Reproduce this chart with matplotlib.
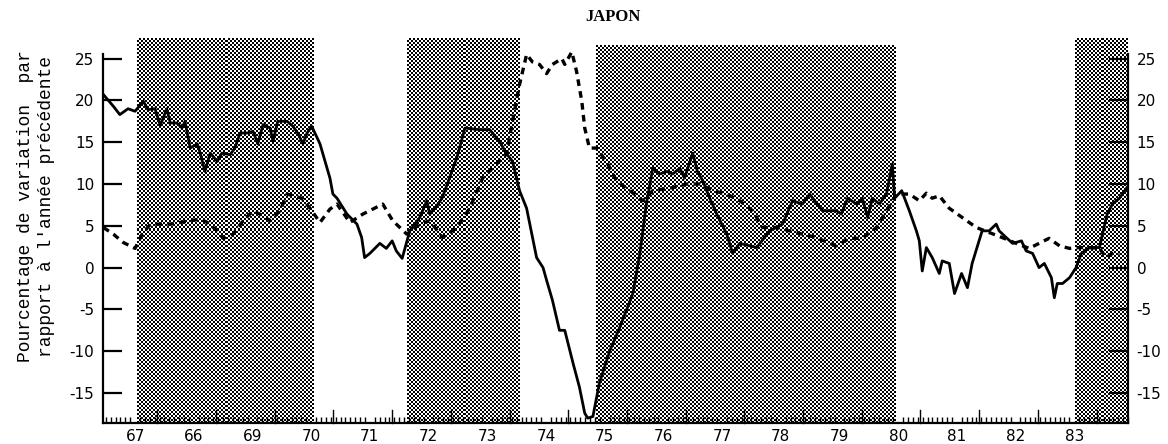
import matplotlib
matplotlib.use("Agg")
import matplotlib.pyplot as plt
import numpy as np

# ---- data (x in decimal years, y in % change over previous year) ----
solid_x = [1966.96, 1967.13, 1967.24, 1967.38, 1967.50, 1967.64, 1967.72, 1967.84, 1967.93, 1968.04,
           1968.10, 1968.21, 1968.30, 1968.35, 1968.44, 1968.56, 1968.61, 1968.69, 1968.78, 1968.90,
           1968.98, 1969.12, 1969.20, 1969.29, 1969.41, 1969.51, 1969.59, 1969.68, 1969.80, 1969.85,
           1969.93, 1970.09, 1970.19, 1970.27, 1970.36, 1970.43, 1970.51, 1970.65, 1970.82, 1970.87,
           1970.94, 1971.11, 1971.28, 1971.36, 1971.41, 1971.50, 1971.67, 1971.78, 1971.88, 1971.95,
           1972.05, 1972.18, 1972.35, 1972.47, 1972.52, 1972.61, 1972.73, 1972.98, 1973.12, 1973.37,
           1973.54, 1973.71, 1973.83, 1973.93, 1974.05, 1974.17, 1974.34, 1974.45, 1974.51, 1974.61,
           1974.73, 1974.82, 1974.96, 1975.07, 1975.16, 1975.21, 1975.30, 1975.41, 1975.59, 1975.76,
           1975.98, 1976.10, 1976.21, 1976.32, 1976.44, 1976.56, 1976.66, 1976.78, 1976.86, 1977.00,
           1977.08, 1977.17, 1977.29, 1977.41, 1977.58, 1977.68, 1977.80, 1978.09, 1978.31, 1978.53,
           1978.70, 1978.87, 1978.99, 1979.21, 1979.45, 1979.53, 1979.64, 1979.79, 1979.89, 1979.98,
           1980.06, 1980.18, 1980.30, 1980.40, 1980.44, 1980.56, 1980.69, 1980.81, 1980.86, 1980.91,
           1980.98, 1981.08, 1981.20, 1981.25, 1981.37, 1981.46, 1981.58, 1981.68, 1981.76, 1981.93,
           1982.05, 1982.17, 1982.22, 1982.34, 1982.45, 1982.60, 1982.68, 1982.79, 1982.90, 1982.99,
           1983.11, 1983.16, 1983.21, 1983.30, 1983.42, 1983.53, 1983.62, 1983.76, 1983.93, 1983.98,
           1984.06, 1984.15, 1984.27, 1984.39]
solid_y = [20.7, 19.3, 18.3, 19.0, 18.7, 19.9, 18.9, 19.0, 17.0, 19.0,
           17.3, 17.3, 16.7, 17.5, 14.3, 14.8, 13.7, 11.5, 13.7, 12.7,
           13.7, 13.5, 14.3, 16.1, 16.1, 16.3, 14.8, 17.1, 16.7, 15.1,
           17.5, 17.5, 16.9, 16.1, 14.8, 16.1, 16.9, 14.8, 10.7, 8.8,
           8.3, 6.4, 5.2, 3.6, 1.2, 1.7, 2.9, 2.3, 3.2, 2.0,
           1.1, 4.4, 6.0, 8.0, 6.4, 7.1, 8.3, 13.1, 16.7, 16.5,
           16.5, 15.1, 13.6, 12.7, 9.2, 7.1, 1.2, 0.0, -1.5, -3.9,
           -7.5, -7.5, -11.4, -14.3, -17.4, -18.0, -17.8, -13.8, -9.9, -7.1,
           -3.1, 1.7, 7.6, 11.9, 11.2, 11.5, 11.2, 11.9, 10.7, 13.7,
           11.5, 10.4, 8.3, 6.4, 4.0, 1.7, 2.9, 2.4, 4.4, 5.2,
           8.0, 7.6, 8.8, 6.8, 6.8, 6.4, 8.3, 7.6, 8.3, 6.0,
           8.3, 7.6, 8.8, 12.4, 8.3, 9.2, 6.8, 4.4, 3.2, -0.4,
           2.4, 1.2, -0.7, 0.8, 0.5, -3.1, -0.7, -2.4, 0.5, 4.4,
           4.4, 5.2, 4.4, 3.6, 2.9, 3.2, 2.0, 1.7, 0.0, 0.5,
           -1.2, -3.6, -1.9, -1.9, -1.2, 0.0, 1.7, 2.4, 2.4, 4.0,
           6.4, 7.6, 8.3, 9.5]

dashed_x = [1966.96, 1967.13, 1967.30, 1967.50, 1967.62, 1967.76, 1967.93, 1968.10, 1968.27, 1968.44,
            1968.61, 1968.73, 1968.90, 1969.00, 1969.17, 1969.34, 1969.51, 1969.68, 1969.80, 1969.97,
            1970.09, 1970.19, 1970.34, 1970.48, 1970.65, 1970.82, 1970.94, 1971.16, 1971.38, 1971.72,
            1971.89, 1972.13, 1972.35, 1972.52, 1972.74, 1972.98, 1973.20, 1973.42, 1973.59, 1973.83,
            1973.93, 1974.05, 1974.17, 1974.27, 1974.39, 1974.51, 1974.61, 1974.77, 1974.82, 1974.94,
            1975.02, 1975.11, 1975.16, 1975.24, 1975.36, 1975.53, 1975.70, 1975.93, 1976.15, 1976.32,
            1976.61, 1976.90, 1977.12, 1977.34, 1977.58, 1977.80, 1978.02, 1978.19, 1978.43, 1978.65,
            1978.87, 1979.11, 1979.33, 1979.45, 1979.67, 1979.89, 1980.13, 1980.30, 1980.47, 1980.69,
            1980.86, 1980.98, 1981.08, 1981.20, 1981.37, 1981.59, 1981.83, 1982.05, 1982.27, 1982.51,
            1982.73, 1982.90, 1983.07, 1983.25, 1983.42, 1983.59, 1983.76, 1983.93, 1984.04, 1984.15,
            1984.27]
dashed_y = [4.8, 4.0, 3.0, 2.3, 4.0, 5.2, 5.2, 5.2, 5.4, 5.6,
            5.8, 5.4, 4.4, 3.5, 4.0, 5.6, 6.8, 6.2, 5.6, 6.8,
            8.8, 8.6, 8.3, 7.1, 5.4, 7.0, 7.6, 5.4, 6.4, 7.6,
            5.6, 4.0, 5.2, 5.6, 3.6, 4.8, 7.1, 10.7, 11.9, 13.6,
            17.5, 21.9, 25.5, 24.6, 24.3, 23.2, 24.3, 25.0, 24.3, 25.8,
            23.5, 19.9, 16.7, 14.3, 14.3, 12.7, 10.4, 9.2, 8.0, 9.2,
            9.5, 10.0, 10.0, 9.2, 8.8, 8.0, 6.8, 4.8, 4.8, 4.4,
            4.0, 3.6, 2.9, 2.6, 3.5, 3.5, 4.8, 6.8, 8.8, 8.8,
            8.0, 8.9, 8.3, 8.6, 7.1, 6.0, 4.8, 4.2, 3.6, 2.9,
            2.3, 2.9, 3.5, 2.6, 2.3, 2.4, 2.4, 2.3, 1.2, 1.7,
            1.7]

shaded_start = [1967.53, 1972.13, 1975.36, 1983.52]
shaded_end = [1970.53, 1974.05, 1980.47, 1984.42]
shaded_top = [27.4, 27.4, 26.6, 27.4]

year_labels = ["67", "66", "69", "70", "71", "72", "73", "74", "75", "76", "77", "78", "79", "80", "81", "82", "83"]
first_year = 1967
y_ticks = [-15, -10, -5, 0, 5, 10, 15, 20, 25]
y_ticklabels = ["-15", "-10", "-5", "0", "5", "10", "15", "20", "25"]

title = "JAPON"
ylabel = "Pourcentage de variation  par\nrapport à l'année précédente"

# ---- figure ----
fig = plt.figure(figsize=(11.68, 4.44), dpi=100)
ax = fig.add_axes([0.088, 0.047, 0.878, 0.870])
ymin, ymax = -18.6, 27.6
xmin, xmax = 1966.95, 1984.42
ax.set_xlim(xmin, xmax)
ax.set_ylim(ymin, ymax)

# halftone (checkerboard) texture for shaded periods
fig.canvas.draw()
px_per_x = ax.transData.transform((xmin + 1, 0))[0] - ax.transData.transform((xmin, 0))[0]
px_per_y = ax.transData.transform((0, 1))[1] - ax.transData.transform((0, 0))[1]
cell = 2.0
for s, e, t in zip(shaded_start, shaded_end, shaded_top):
    nx = max(1, int(round((e - s) * px_per_x / cell)))
    ny = max(1, int(round((t - ymin) * px_per_y / cell)))
    ii, jj = np.indices((ny, nx))
    board = ((ii + jj) % 2).astype(float)
    ax.imshow(board, cmap="gray", vmin=0, vmax=1, extent=(s, e, ymin, t), origin="lower",
              interpolation="nearest", aspect="auto", zorder=1)
ax.set_xlim(xmin, xmax)
ax.set_ylim(ymin, ymax)

ax.plot(dashed_x, dashed_y, color="black", lw=2.4, linestyle=(0, (2.0, 1.6)), zorder=3)
ax.plot(solid_x, solid_y, color="black", lw=2.0, zorder=4)

# spines
ax.spines["top"].set_visible(False)
ax.spines["left"].set_bounds(ymin, 25.5)
ax.spines["right"].set_bounds(ymin, 25.5)
for sp in ["left", "right", "bottom"]:
    ax.spines[sp].set_linewidth(1.6)

# y ticks both sides
ax.set_yticks(y_ticks)
ax.set_yticklabels(y_ticklabels)
ax.yaxis.set_ticks_position("both")
ax.tick_params(axis="y", direction="in", length=14, width=1.6, labelsize=11,
               labelleft=True, labelright=True, pad=6)

# x ticks
years = np.arange(first_year, first_year + len(year_labels))
ax.set_xticks(years + 0.5)
ax.set_xticklabels(year_labels)
ax.tick_params(axis="x", which="major", direction="in", length=0, labelsize=11, pad=4)
minor = np.arange(first_year, first_year + len(year_labels) + 1, 1 / 12.0)
ax.set_xticks(minor[(minor > xmin) & (minor < xmax)], minor=True)
ax.tick_params(axis="x", which="minor", direction="in", length=4, width=1.0)
for yr in years:
    ax.plot([yr + 0.88, yr + 0.88], [ymin, ymin + 1.6], color="black", lw=1.0, zorder=5, clip_on=False)

fig.text(0.525, 0.962, title, ha="center", va="center", fontsize=12, fontweight="bold",
         family="Liberation Serif")
fig.text(0.031, 0.535, ylabel, rotation=90, ha="center", va="center", fontsize=13,
         family="Liberation Mono", multialignment="center", linespacing=1.3)

fig.savefig("out.png", dpi=100)
